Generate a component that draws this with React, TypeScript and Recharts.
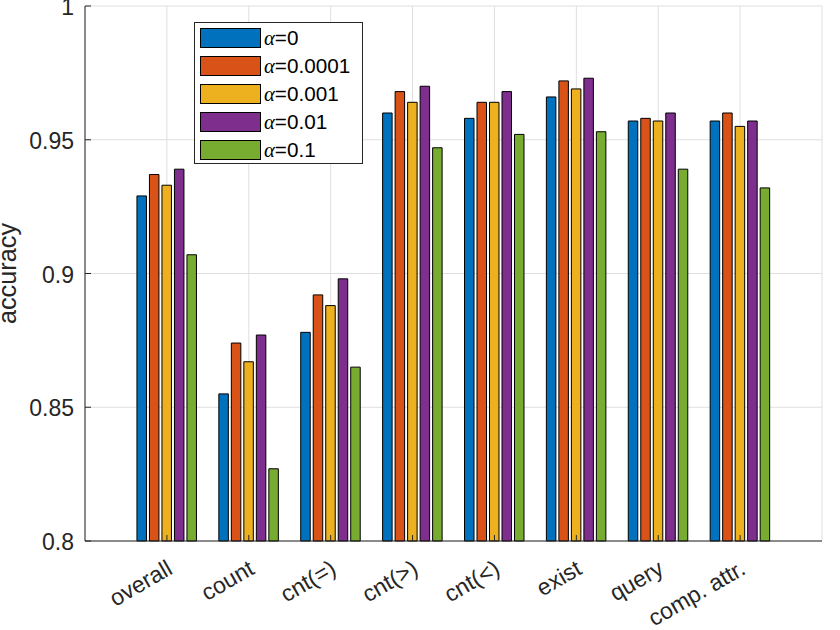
import React from 'react';
import { BarChart, Bar, XAxis, YAxis, CartesianGrid, Legend } from 'recharts';

const categories = ['overall', 'count', 'cnt(=)', 'cnt(>)', 'cnt(<)', 'exist', 'query', 'comp. attr.'];
const alpha0 = [0.929, 0.855, 0.878, 0.960, 0.958, 0.966, 0.957, 0.957];
const alpha00001 = [0.937, 0.874, 0.892, 0.968, 0.964, 0.972, 0.958, 0.960];
const alpha0001 = [0.933, 0.867, 0.888, 0.964, 0.964, 0.969, 0.957, 0.955];
const alpha001 = [0.939, 0.877, 0.898, 0.970, 0.968, 0.973, 0.960, 0.957];
const alpha01 = [0.907, 0.827, 0.865, 0.947, 0.952, 0.953, 0.939, 0.932];
const seriesNames = ['α=0', 'α=0.0001', 'α=0.001', 'α=0.01', 'α=0.1'];
const seriesKeys = ['a0', 'a1', 'a2', 'a3', 'a4'];
const seriesColors = ['#0072BD', '#D95319', '#EDB120', '#7E2F8E', '#77AC30'];
const yTicks = [0.8, 0.85, 0.9, 0.95, 1];

const seriesValues = [alpha0, alpha00001, alpha0001, alpha001, alpha01];
const data = categories.map((c, i) => {
  const row: any = { name: c };
  seriesKeys.forEach((k, j) => {
    row[k] = seriesValues[j][i];
  });
  return row;
});

const FONT = '"Liberation Sans", Arial, Helvetica, sans-serif';
const AX = '#262626';

const BottomTick = (props: any) => {
  const { x, y, payload } = props;
  const tx = x + 7;
  const ty = y + 32;
  return (
    <g>
      <line x1={x} y1={y} x2={x} y2={y - 6} stroke={AX} strokeWidth={1} />
      <text
        x={tx}
        y={ty}
        textAnchor="end"
        transform={`rotate(-30 ${tx} ${ty})`}
        fontSize={23}
        fontFamily={FONT}
        fill={AX}
      >
        {payload.value}
      </text>
    </g>
  );
};

const TopTick = (props: any) => {
  const { x, y } = props;
  return <line x1={x} y1={y} x2={x} y2={y + 6} stroke={AX} strokeWidth={1} />;
};

const LeftTick = (props: any) => {
  const { x, y, payload } = props;
  return (
    <g>
      <line x1={x} y1={y} x2={x + 6} y2={y} stroke={AX} strokeWidth={1} />
      <text x={x - 11} y={y + 9} textAnchor="end" fontSize={23} fontFamily={FONT} fill={AX}>
        {String(payload.value)}
      </text>
    </g>
  );
};

const RightTick = (props: any) => {
  const { x, y } = props;
  return <line x1={x} y1={y} x2={x - 6} y2={y} stroke={AX} strokeWidth={1} />;
};

const renderLegend = (props: any) => {
  const payload = props.payload || [];
  return (
    <div
      style={{
        position: 'relative',
        width: 169,
        height: 142,
        border: `1px solid ${AX}`,
        background: '#fff',
        boxSizing: 'border-box',
      }}
    >
      {payload.map((entry: any, i: number) => {
        const label = String(entry.value);
        const top = 5 + i * 27.9;
        return (
          <div key={i} style={{ position: 'absolute', left: 5, top, height: 20, width: 160 }}>
            <div
              style={{
                position: 'absolute',
                left: 0,
                top: 0,
                width: 61,
                height: 20,
                background: entry.color,
                border: '1px solid #000',
                boxSizing: 'border-box',
              }}
            />
            <div
              style={{
                position: 'absolute',
                left: 64,
                top: -3,
                lineHeight: '26px',
                fontSize: 20.7,
                fontFamily: FONT,
                color: '#000',
                whiteSpace: 'nowrap',
              }}
            >
              <span style={{ fontFamily: '"Liberation Serif", "DejaVu Serif", serif', fontStyle: 'italic' }}>
                {label.charAt(0)}
              </span>
              {label.slice(1)}
            </div>
          </div>
        );
      })}
    </div>
  );
};

const YLabel = () => (
  <text
    x={16}
    y={273.5}
    transform="rotate(-90 16 273.5)"
    textAnchor="middle"
    fontSize={25.3}
    fontFamily={FONT}
    fill={AX}
  >
    accuracy
  </text>
);

export default function App() {
  return (
    <div style={{ position: 'absolute', left: 0, top: 0, width: 840, height: 630, background: '#fff' }}>
      <BarChart
        width={840}
        height={630}
        data={data}
        margin={{ top: 6, right: 18, left: 0, bottom: 0 }}
        barSize={9.5}
        barGap={3}
      >
        <CartesianGrid stroke="#dfdfdf" strokeWidth={1} />
        <XAxis
          dataKey="name"
          type="category"
          height={89}
          padding={{ left: 40.95, right: 40.95 }}
          interval={0}
          tickLine={false}
          tickSize={0}
          tickMargin={0}
          axisLine={{ stroke: AX, strokeWidth: 1 }}
          tick={<BottomTick />}
        />
        <XAxis
          xAxisId="top"
          dataKey="name"
          type="category"
          orientation="top"
          height={0}
          padding={{ left: 40.95, right: 40.95 }}
          interval={0}
          tickLine={false}
          tickSize={0}
          tickMargin={0}
          axisLine={{ stroke: AX, strokeWidth: 1 }}
          tick={<TopTick />}
        />
        <YAxis
          type="number"
          domain={[0.8, 1]}
          ticks={yTicks}
          width={85}
          interval={0}
          tickLine={false}
          tickSize={0}
          tickMargin={0}
          axisLine={{ stroke: AX, strokeWidth: 1 }}
          tick={<LeftTick />}
          label={YLabel}
        />
        <YAxis
          yAxisId="r"
          orientation="right"
          type="number"
          domain={[0.8, 1]}
          ticks={yTicks}
          width={0}
          interval={0}
          tickLine={false}
          tickSize={0}
          tickMargin={0}
          axisLine={{ stroke: AX, strokeWidth: 1 }}
          tick={<RightTick />}
        />
        <Legend
          content={renderLegend}
          layout="vertical"
          align="center"
          verticalAlign="middle"
          wrapperStyle={{ left: 194, top: 22, width: 169, height: 142 }}
        />
        {seriesKeys.map((k, j) => (
          <Bar
            key={k}
            dataKey={k}
            name={seriesNames[j]}
            fill={seriesColors[j]}
            stroke="#000"
            strokeWidth={1}
            isAnimationActive={false}
          />
        ))}
      </BarChart>
    </div>
  );
}
